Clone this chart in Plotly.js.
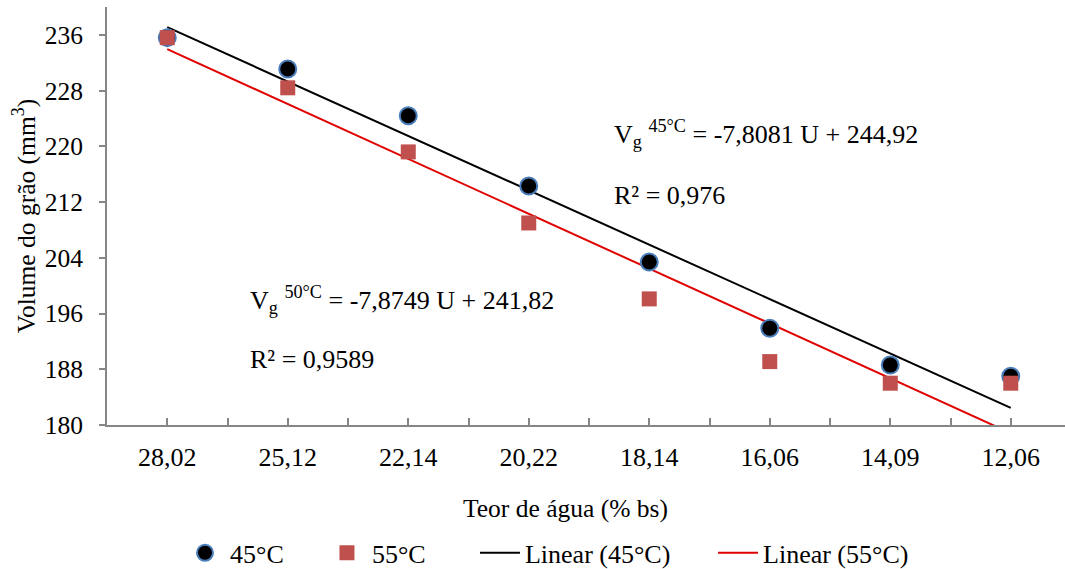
<!DOCTYPE html>
<html>
<head>
<meta charset="utf-8">
<script src="https://cdn.plot.ly/plotly-3.0.1.min.js"></script>
<style>html,body{margin:0;padding:0;background:#fff;}</style>
</head>
<body>
<div id="chart"></div>
<script>
const categories = ["28,02", "25,12", "22,14", "20,22", "18,14", "16,06", "14,09", "12,06"];
const vol45 = [235.6, 231.1, 224.4, 214.3, 203.4, 193.9, 188.6, 187.0];
const vol55 = [235.6, 228.4, 219.2, 209.0, 198.1, 189.1, 186.0, 186.0];
const slopes = [-7.8081, -7.8749];
const intercepts = [244.92, 241.82];
const yTicks = [180, 188, 196, 204, 212, 220, 228, 236];

const xi = categories.map((_, i) => i + 1);
const xEnds = [1, categories.length];
const fit = (k) => xEnds.map(x => slopes[k] * x + intercepts[k]);

const FAM = "Liberation Serif";
const BLACK = "#000000";

const traces = [
  {x: xEnds, y: fit(0), mode: "lines", name: "Linear (45°C)", legend: "legend3", line: {color: BLACK, width: 2}},
  {x: xEnds, y: fit(1), mode: "lines", name: "Linear (55°C)", legend: "legend4", line: {color: "#e00000", width: 2}},
  {x: xi, y: vol45, mode: "markers", name: "45°C", legend: "legend",
   marker: {symbol: "circle", size: 17, color: BLACK, line: {color: "#4a7ebb", width: 2}}},
  {x: xi, y: vol55, mode: "markers", name: "55°C", legend: "legend2",
   marker: {symbol: "square", size: 15, color: "#c0504d", line: {width: 0}}}
];

const legBase = {orientation: "h", xanchor: "left", yanchor: "middle", y: -0.306,
                 font: {family: FAM, size: 26, color: BLACK}, itemwidth: 40, bgcolor: "rgba(0,0,0,0)"};

const layout = {
  width: 1065, height: 569,
  margin: {l: 107, r: 0, t: 7, b: 144, autoexpand: false},
  paper_bgcolor: "#ffffff", plot_bgcolor: "#ffffff",
  font: {family: FAM, size: 25, color: BLACK},
  showlegend: true,
  legend: Object.assign({}, legBase, {x: 0.0762}),
  legend2: Object.assign({}, legBase, {x: 0.2244}),
  legend3: Object.assign({}, legBase, {x: 0.3841}),
  legend4: Object.assign({}, legBase, {x: 0.6326}),
  xaxis: {
    range: [0.5, 8.45], tickmode: "array", tickvals: xi, ticktext: categories,
    ticks: "inside", ticklen: 7, tickcolor: "#868686", tickwidth: 1.5,
    minor: {tickmode: "linear", tick0: 0.5, dtick: 1, ticks: "inside", ticklen: 7, tickcolor: "#868686", tickwidth: 1.5},
    showline: true, linecolor: "#868686", linewidth: 2, showgrid: false, zeroline: false,
    tickfont: {family: FAM, size: 26, color: BLACK}, ticklabelstandoff: 8
  },
  yaxis: {
    range: [180, 240], tickmode: "array", tickvals: yTicks,
    ticks: "outside", ticklen: 6, tickcolor: "#868686", tickwidth: 1.5,
    showline: true, linecolor: "#868686", linewidth: 2, showgrid: false, zeroline: false,
    tickfont: {family: FAM, size: 25.5, color: BLACK}, ticklabelstandoff: 11,
    title: {text: "Volume do grão (mm<sup>3</sup>)", font: {family: FAM, size: 25.5, color: BLACK}, standoff: 2}
  },
  annotations: [
    {x: 0.4786, y: -0.1986, xref: "paper", yref: "paper", xanchor: "center", yanchor: "middle", showarrow: false,
     text: "Teor de água (% bs)", font: {family: FAM, size: 25.5, color: BLACK}},
    {x: 4.69, y: 221.7, xref: "x", yref: "y", xanchor: "left", yanchor: "middle", showarrow: false,
     text: "V<sub>g</sub> <sup>45°C</sup> = -7,8081 U + 244,92", font: {family: FAM, size: 26, color: BLACK}},
    {x: 4.69, y: 212.9, xref: "x", yref: "y", xanchor: "left", yanchor: "middle", showarrow: false,
     text: "R² = 0,976", font: {family: FAM, size: 26, color: BLACK}},
    {x: 1.67, y: 197.9, xref: "x", yref: "y", xanchor: "left", yanchor: "middle", showarrow: false,
     text: "V<sub>g</sub> <sup>50°C</sup> = -7,8749 U + 241,82", font: {family: FAM, size: 26, color: BLACK}},
    {x: 1.67, y: 189.4, xref: "x", yref: "y", xanchor: "left", yanchor: "middle", showarrow: false,
     text: "R² = 0,9589", font: {family: FAM, size: 26, color: BLACK}}
  ]
};

Plotly.newPlot("chart", traces, layout, {displayModeBar: false});
</script>
</body>
</html>
